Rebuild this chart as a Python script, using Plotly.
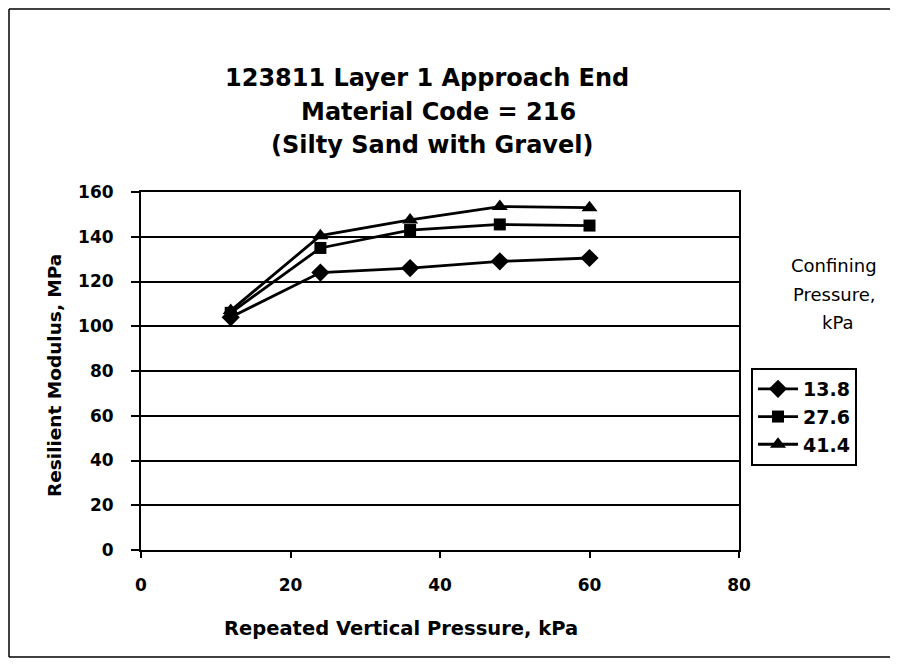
import plotly.graph_objects as go

x_vals = [12, 24, 36, 48, 60]
series_names = ["13.8", "27.6", "41.4"]
y_13_8 = [104, 124, 126, 129, 130.5]
y_27_6 = [106, 135, 143, 145.5, 145]
y_41_4 = [107, 140.5, 147.5, 153.5, 153]
symbols = ["diamond", "square", "triangle-up"]
marker_sizes = [14, 12, 14]

title_lines = ["123811 Layer 1 Approach End", "Material Code = 216", "(Silty Sand with Gravel)"]
legend_title_lines = ["Confining", "Pressure,", "kPa"]

FONT = "DejaVu Sans, Liberation Sans, Arial, sans-serif"

fig = go.Figure()
for name, ys, sym, ms in zip(series_names, [y_13_8, y_27_6, y_41_4], symbols, marker_sizes):
    fig.add_trace(go.Scatter(
        x=x_vals, y=ys, mode="lines+markers", name="<b>" + name + "</b>",
        line=dict(color="black", width=2.8),
        marker=dict(symbol=sym, size=ms, color="black"),
    ))

OFF = 8  # page body margin
W, H = 882, 650
# plot area in screenshot pixels
PX0, PX1, PY0, PY1 = 141, 739, 192, 550
L, R, T, B = PX0 - OFF, W - (PX1 - OFF), PY0 - OFF, H - (PY1 - OFF)
pw, ph = W - L - R, H - T - B

def px_x(px):
    return (px - OFF - L) / pw

def px_y(py):
    return (H - B - (py - OFF)) / ph

annotations = []
title_pos = [(427, 78), (438, 112), (432, 145)]
for txt, (cx, cy) in zip(title_lines, title_pos):
    annotations.append(dict(
        text="<b>" + txt + "</b>", x=px_x(cx), y=px_y(cy), xref="paper", yref="paper",
        xanchor="center", yanchor="middle", showarrow=False,
        font=dict(family=FONT, size=24, color="black"),
    ))
leg_pos = [(834, 265), (834, 294), (838, 322)]
for txt, (cx, cy) in zip(legend_title_lines, leg_pos):
    annotations.append(dict(
        text=txt, x=px_x(cx), y=px_y(cy), xref="paper", yref="paper",
        xanchor="center", yanchor="middle", showarrow=False,
        font=dict(family=FONT, size=18, color="black"),
    ))
annotations.append(dict(
    text="<b>Resilient Modulus, MPa</b>", x=px_x(54), y=px_y(376), xref="paper", yref="paper",
    xanchor="center", yanchor="middle", showarrow=False, textangle=-90,
    font=dict(family=FONT, size=18.5, color="black"),
))
annotations.append(dict(
    text="<b>Repeated Vertical Pressure, kPa</b>", x=px_x(401), y=px_y(628), xref="paper", yref="paper",
    xanchor="center", yanchor="middle", showarrow=False,
    font=dict(family=FONT, size=19.5, color="black"),
))

frame_line = dict(color="black", width=1.5)
shapes = [
    dict(type="line", xref="paper", yref="paper", x0=px_x(9), x1=px_x(1000), y0=px_y(9), y1=px_y(9), line=frame_line, layer="below"),
    dict(type="line", xref="paper", yref="paper", x0=px_x(9), x1=px_x(1000), y0=px_y(657), y1=px_y(657), line=frame_line, layer="below"),
    dict(type="line", xref="paper", yref="paper", x0=px_x(9), x1=px_x(9), y0=px_y(9), y1=px_y(657), line=frame_line, layer="below"),
]

fig.update_layout(
    width=W, height=H,
    margin=dict(l=L, r=R, t=T, b=B, autoexpand=False),
    paper_bgcolor="white", plot_bgcolor="white",
    font=dict(family=FONT, size=17, color="black"),
    showlegend=True,
    legend=dict(
        x=px_x(751), y=px_y(368), xanchor="left", yanchor="top",
        bordercolor="black", borderwidth=2, bgcolor="white",
        font=dict(family=FONT, size=19, color="black"),
        tracegroupgap=0, itemwidth=40,
    ),
    annotations=annotations,
    shapes=shapes,
)
fig.update_xaxes(
    range=[0, 80], tickvals=[0, 20, 40, 60, 80], ticktext=["<b>%d</b>" % v for v in [0, 20, 40, 60, 80]],
    showgrid=False, zeroline=False, showline=True, mirror=True, linecolor="black", linewidth=2,
    ticks="outside", ticklen=6, tickwidth=2, tickcolor="black", ticklabelstandoff=13,
    tickfont=dict(family=FONT, size=17, color="black"),
)
fig.update_yaxes(
    range=[0, 160], tickvals=list(range(0, 161, 20)), ticktext=["<b>%d</b>" % v for v in range(0, 161, 20)],
    showgrid=True, gridcolor="black", gridwidth=2, zeroline=False,
    showline=True, mirror=True, linecolor="black", linewidth=2,
    ticks="outside", ticklen=8, tickwidth=2, tickcolor="black", ticklabelstandoff=14,
    tickfont=dict(family=FONT, size=17, color="black"),
)
fig.write_html("out.html")
